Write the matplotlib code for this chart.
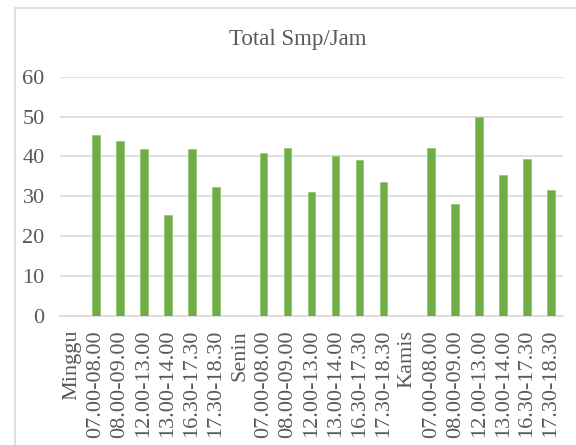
import matplotlib
matplotlib.use("Agg")
import matplotlib.pyplot as plt
from matplotlib.patches import Rectangle

# Traffic volume (smp/jam) per time slot, grouped by day
categories = [
    "Minggu", "07.00-08.00", "08.00-09.00", "12.00-13.00", "13.00-14.00", "16.30-17.30", "17.30-18.30",
    "Senin", "07.00-08.00", "08.00-09.00", "12.00-13.00", "13.00-14.00", "16.30-17.30", "17.30-18.30",
    "Kamis", "07.00-08.00", "08.00-09.00", "12.00-13.00", "13.00-14.00", "16.30-17.30", "17.30-18.30",
]
minggu = [45.3, 44.0, 41.8, 25.3, 41.8, 32.3]
senin = [40.9, 42.2, 31.1, 40.2, 39.1, 33.5]
kamis = [42.2, 28.1, 50.0, 35.3, 39.3, 31.7]
yticks = [0, 10, 20, 30, 40, 50, 60]

# Day header categories carry no bar
values = [None] + minggu + [None] + senin + [None] + kamis

plt.rcParams["font.family"] = ["Liberation Serif", "DejaVu Serif"]
text_color = "#595959"
grid_color = "#D9D9D9"
bar_color = "#70AD47"

fig = plt.figure(figsize=(5.76, 4.45), dpi=100)
ax = fig.add_axes([60 / 576, 1 - 316 / 445, (563 - 60) / 576, (316 - 76.7) / 445])

xs = [i for i, v in enumerate(values) if v is not None]
hs = [v for v in values if v is not None]
ax.bar(xs, hs, width=0.32, color=bar_color, edgecolor="#8CC26A", linewidth=0.5, zorder=3)

ax.set_xlim(-0.5, len(categories) - 0.5)
ax.set_ylim(0, 60)
ax.set_yticks(yticks)
ax.set_xticks(range(len(categories)))
ax.set_xticklabels(categories, rotation=90, va="top", ha="center")

ax.grid(axis="y", color=grid_color, linewidth=1.2, zorder=0)
for s in ["top", "right", "left"]:
    ax.spines[s].set_visible(False)
ax.spines["bottom"].set_color(grid_color)
ax.spines["bottom"].set_linewidth(1.2)
ax.tick_params(axis="both", length=0, colors=text_color, labelsize=16)
ax.tick_params(axis="y", pad=11)
ax.tick_params(axis="x", pad=10)

fig.text(297.5 / 576, 1 - 39 / 445, "Total Smp/Jam", ha="center", va="center",
         fontsize=16.5, color=text_color)

# Chart area border
fig.patches.append(Rectangle((14.5 / 576, -0.05), 1.2, 1 - 7.5 / 445 + 0.05,
                             transform=fig.transFigure, fill=False,
                             edgecolor=grid_color, linewidth=1.2))

fig.savefig("out.png", dpi=100)
